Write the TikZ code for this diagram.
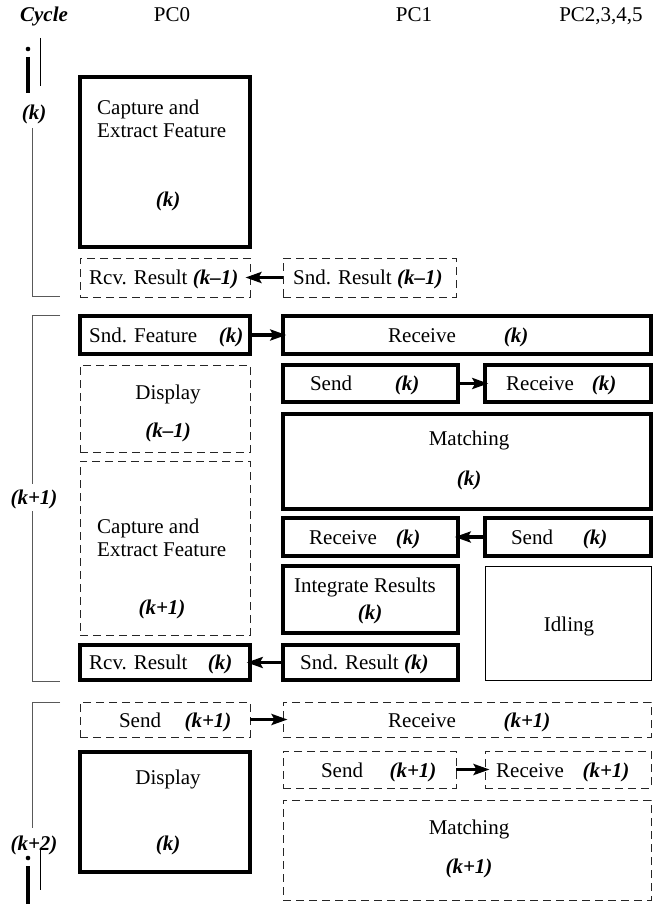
\documentclass[tikz,border=0pt]{standalone}
\usepackage{fontspec}
\setmainfont{Liberation Serif}
\usetikzlibrary{arrows.meta}

% bold italic cycle index
\newcommand\kk[1]{\textbf{\textit{(#1)}}}
% box from corner (x1,y1) to corner (x2,y2): name, x1, y1, x2, y2, style
\newcommand\bx[6]{\node[#6, minimum width={(#4-#2)*1pt}, minimum height={(#5-#3)*1pt}] (#1) at ({(#2+#4)/2},{(#3+#5)/2}) {};}

\tikzset{
  solidbox/.style={draw, rectangle, line width=3.5pt, inner sep=0pt},
  dashbox/.style={draw, rectangle, line width=0.9pt, black!85, dash pattern=on 8pt off 5pt, inner sep=0pt},
  thinbox/.style={draw, rectangle, line width=1pt, inner sep=0pt},
  txt/.style={inner sep=0pt, text height=15pt, text depth=1pt, font=\fontsize{21}{22}\selectfont},
  flow/.style={line width=3.2pt, -{Stealth[length=16pt,width=11pt,inset=3pt]}, shorten >=-5pt},
  bracket/.style={line width=1pt, black!65},
}

\begin{document}
\begin{tikzpicture}[x=1pt, y=-1pt]
\useasboundingbox (0,0) rectangle (656,904);

% column headers
\node[txt] (hcyc) at (44,15) {\textbf{\textit{Cycle}}};
\node[txt] (hpc0) at (172,15) {PC0};
\node[txt] (hpc1) at (414,15) {PC1};
\node[txt] (hpc2) at (601,15) {PC2,3,4,5};

% cycle labels and brackets
\node[txt] (ck)  at (34,113) {\kk{k}};
\node[txt] (ck1) at (34,497) {\kk{k+1}};
\node[txt] (ck2) at (34,843) {\kk{k+2}};
\draw[bracket] (32,128) -- (32,296) -- (60,296);
\draw[bracket] (60,315) -- (32,315) -- (32,484);
\draw[bracket] (32,511) -- (32,681) -- (60,681);
\draw[bracket] (60,702) -- (32,702) -- (32,828);

% continuation marks
\fill (28,49) circle (2.3);
\draw[line width=4.5pt] (28,57) -- (28,93);
\draw[line width=1pt] (40,38) -- (40,86);
\fill (28,858) circle (2.3);
\draw[line width=4.5pt] (28,866) -- (28,904);
\draw[line width=1pt] (40,849) -- (40,890);

% ---------- cycle k ----------
\bx{cap0}{80}{77}{250}{247}{solidbox}
\node[txt, anchor=west] (cap0a) at (97,108) {Capture and};
\node[txt, anchor=west] (cap0b) at (97,131) {Extract Feature};
\node[txt] (cap0k) at (168,199) {\kk{k}};

\bx{rcvres1}{80}{258}{250}{297}{dashbox}
\node[txt, anchor=west] (rcvres1t) at (89,277) {Rcv. Result \kk{k–1}};
\bx{sndres1}{283}{258}{456}{297}{dashbox}
\node[txt, anchor=west] (sndres1t) at (293,277) {Snd. Result \kk{k–1}};

% ---------- cycle k+1 ----------
\bx{sndfeat}{80}{316}{250}{354}{solidbox}
\node[txt, anchor=west] (sndfeatt) at (89,335) {Snd. Feature};
\node[txt] (sndfeatk) at (231,335) {\kk{k}};
\bx{recvk}{283}{316}{651}{354}{solidbox}
\node[txt] (recvkt) at (422,335) {Receive};
\node[txt] (recvkk) at (516,335) {\kk{k}};

\bx{disp0}{80}{365}{250}{452}{dashbox}
\node[txt] (disp0t) at (168,392) {Display};
\node[txt] (disp0k) at (168,430) {\kk{k–1}};

\bx{sendk}{283}{365}{458}{402}{solidbox}
\node[txt] (sendkt) at (331,383) {Send};
\node[txt] (sendkk) at (407,383) {\kk{k}};
\bx{recvk2}{485}{365}{651}{402}{solidbox}
\node[txt] (recvk2t) at (540,383) {Receive};
\node[txt] (recvk2k) at (604,383) {\kk{k}};

\bx{match}{283}{414}{651}{509}{solidbox}
\node[txt] (matcht) at (469,438) {Matching};
\node[txt] (matchk) at (469,478) {\kk{k}};

\bx{cap1}{80}{461}{250}{635}{dashbox}
\node[txt, anchor=west] (cap1a) at (97,526) {Capture and};
\node[txt, anchor=west] (cap1b) at (97,549) {Extract Feature};
\node[txt] (cap1k) at (162,607) {\kk{k+1}};

\bx{recvk3}{283}{518}{458}{556}{solidbox}
\node[txt] (recvk3t) at (343,537) {Receive};
\node[txt] (recvk3k) at (408,537) {\kk{k}};
\bx{sendk2}{485}{518}{651}{556}{solidbox}
\node[txt] (sendk2t) at (532,537) {Send};
\node[txt] (sendk2k) at (595,537) {\kk{k}};

\bx{integ}{283}{566}{458}{633}{solidbox}
\node[txt] (integt) at (365,585) {Integrate Results};
\node[txt] (integk) at (370,612) {\kk{k}};
\bx{idle}{485}{566}{651}{680}{thinbox}
\node[txt] (idlet) at (569,624) {Idling};

\bx{rcvresk}{80}{645}{250}{680}{solidbox}
\node[txt, anchor=west] (rcvreskt) at (89,662) {Rcv. Result};
\node[txt] (rcvreskk) at (220,662) {\kk{k}};
\bx{sndresk}{283}{645}{458}{680}{solidbox}
\node[txt, anchor=west] (sndreskt) at (300,662) {Snd. Result \kk{k}};

% ---------- cycle k+2 ----------
\bx{send1}{80}{702}{250}{737}{dashbox}
\node[txt] (send1t) at (140,720) {Send};
\node[txt] (send1k) at (208,720) {\kk{k+1}};
\bx{recv1}{283}{702}{651}{737}{dashbox}
\node[txt] (recv1t) at (422,720) {Receive};
\node[txt] (recv1k) at (527,720) {\kk{k+1}};

\bx{disp1}{80}{752}{250}{872}{solidbox}
\node[txt] (disp1t) at (168,777) {Display};
\node[txt] (disp1k) at (168,843) {\kk{k}};

\bx{send1b}{283}{751}{456}{788}{dashbox}
\node[txt] (send1bt) at (342,770) {Send};
\node[txt] (send1bk) at (413,770) {\kk{k+1}};
\bx{recv1b}{485}{751}{651}{788}{dashbox}
\node[txt] (recv1bt) at (530,770) {Receive};
\node[txt] (recv1bk) at (606,770) {\kk{k+1}};

\bx{match1}{283}{800}{651}{900}{dashbox}
\node[txt] (match1t) at (469,827) {Matching};
\node[txt] (match1k) at (469,866) {\kk{k+1}};

% data transfers
\draw[flow] (sndres1.west) -- (rcvres1.east);
\draw[flow] (sndfeat.east) -- (recvk.west);
\draw[flow] (sendk.east) -- (recvk2.west);
\draw[flow] (sendk2.west) -- (recvk3.east);
\draw[flow] (sndresk.west) -- (rcvresk.east);
\draw[flow] (send1.east) -- (recv1.west);
\draw[flow] (send1b.east) -- (recv1b.west);
\end{tikzpicture}
\end{document}
